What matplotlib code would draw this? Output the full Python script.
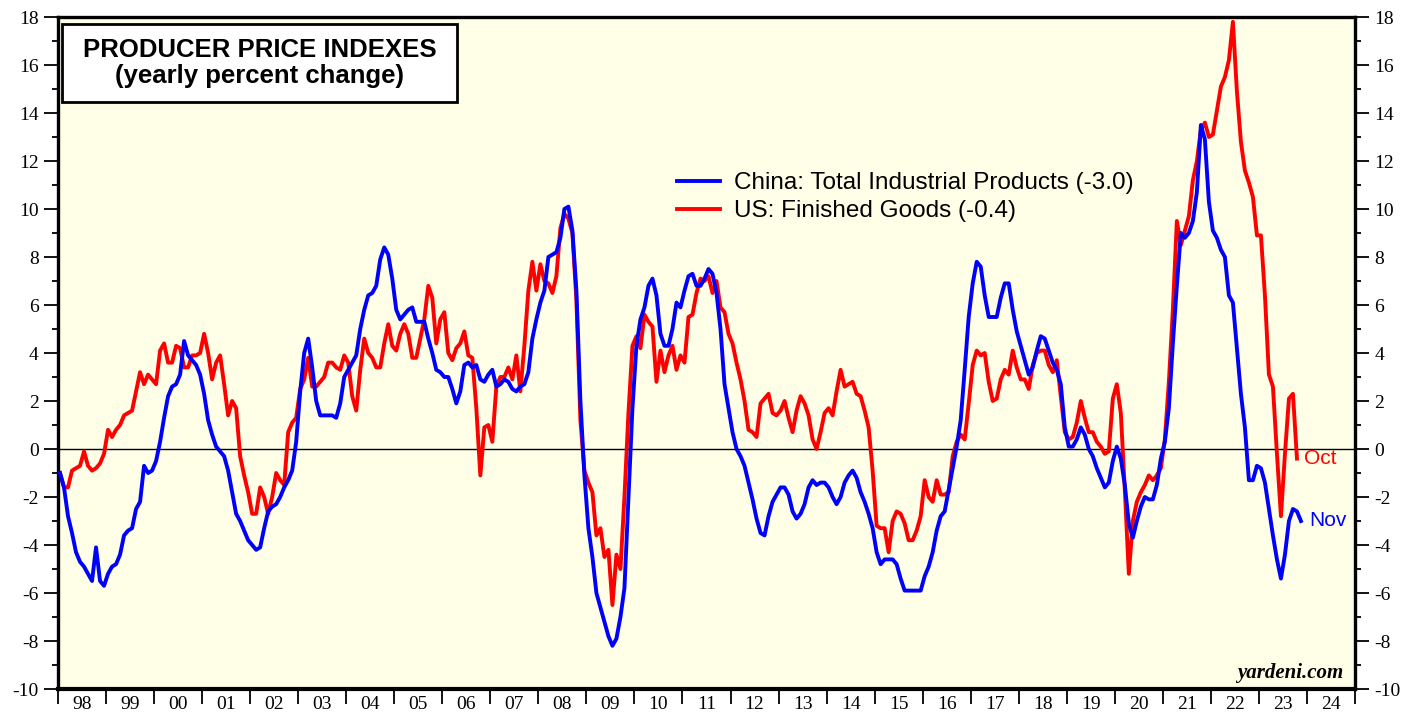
import numpy as np
import matplotlib
matplotlib.use("Agg")
import matplotlib.pyplot as plt
from matplotlib.patches import Rectangle
from matplotlib.ticker import MultipleLocator, FixedLocator, NullFormatter, FixedFormatter

plt.rcParams["axes.unicode_minus"] = False

# monthly yearly % change, Jan 1998 onwards
start_year = 1998

china_ppi = [
    -1.0, -1.6, -2.8, -3.5, -4.3, -4.7, -4.9, -5.2, -5.5, -4.1, -5.5, -5.7,  # 1998
    -5.2, -4.9, -4.8, -4.4, -3.6, -3.4, -3.3, -2.5, -2.2, -0.7, -1.0, -0.9,  # 1999
    -0.5, 0.3, 1.3, 2.2, 2.6, 2.7, 3.1, 4.5, 3.9, 3.7, 3.5, 3.1,  # 2000
    2.3, 1.2, 0.6, 0.1, -0.1, -0.3, -0.9, -1.8, -2.7, -3.0, -3.4, -3.8,  # 2001
    -4.0, -4.2, -4.1, -3.3, -2.6, -2.4, -2.3, -2.0, -1.6, -1.3, -0.9, 0.3,  # 2002
    2.4, 4.0, 4.6, 3.4, 2.0, 1.4, 1.4, 1.4, 1.4, 1.3, 1.9, 3.0,  # 2003
    3.3, 3.6, 3.9, 5.0, 5.8, 6.4, 6.5, 6.8, 7.9, 8.4, 8.1, 7.1,  # 2004
    5.8, 5.4, 5.6, 5.8, 5.9, 5.3, 5.3, 5.3, 4.6, 4.0, 3.3, 3.2,  # 2005
    3.0, 3.0, 2.5, 1.9, 2.4, 3.5, 3.6, 3.4, 3.5, 2.9, 2.8, 3.1,  # 2006
    3.3, 2.6, 2.7, 2.9, 2.8, 2.5, 2.4, 2.6, 2.7, 3.2, 4.6, 5.4,  # 2007
    6.1, 6.6, 8.0, 8.1, 8.2, 8.8, 10.0, 10.1, 9.1, 6.6, 2.0, -1.1,  # 2008
    -3.3, -4.5, -6.0, -6.6, -7.2, -7.8, -8.2, -7.9, -7.0, -5.8, -2.1, 1.7,  # 2009
    4.3, 5.4, 5.9, 6.8, 7.1, 6.4, 4.8, 4.3, 4.3, 5.0, 6.1, 5.9,  # 2010
    6.6, 7.2, 7.3, 6.8, 6.8, 7.1, 7.5, 7.3, 6.5, 5.0, 2.7, 1.7,  # 2011
    0.7, 0.0, -0.3, -0.7, -1.4, -2.1, -2.9, -3.5, -3.6, -2.8, -2.2, -1.9,  # 2012
    -1.6, -1.6, -1.9, -2.6, -2.9, -2.7, -2.3, -1.6, -1.3, -1.5, -1.4, -1.4,  # 2013
    -1.6, -2.0, -2.3, -2.0, -1.4, -1.1, -0.9, -1.2, -1.8, -2.2, -2.7, -3.3,  # 2014
    -4.3, -4.8, -4.6, -4.6, -4.6, -4.8, -5.4, -5.9, -5.9, -5.9, -5.9, -5.9,  # 2015
    -5.3, -4.9, -4.3, -3.4, -2.8, -2.6, -1.7, -0.8, 0.1, 1.2, 3.3, 5.5,  # 2016
    6.9, 7.8, 7.6, 6.4, 5.5, 5.5, 5.5, 6.3, 6.9, 6.9, 5.8, 4.9,  # 2017
    4.3, 3.7, 3.1, 3.4, 4.1, 4.7, 4.6, 4.1, 3.6, 3.3, 2.7, 0.9,  # 2018
    0.1, 0.1, 0.4, 0.9, 0.6, 0.0, -0.3, -0.8, -1.2, -1.6, -1.4, -0.5,  # 2019
    0.1, -0.4, -1.5, -3.1, -3.7, -3.0, -2.4, -2.0, -2.1, -2.1, -1.5, -0.4,  # 2020
    0.3, 1.7, 4.4, 6.8, 9.0, 8.8, 9.0, 9.5, 10.7, 13.5, 12.9, 10.3,  # 2021
    9.1, 8.8, 8.3, 8.0, 6.4, 6.1, 4.2, 2.3, 0.9, -1.3, -1.3, -0.7,  # 2022
    -0.8, -1.4, -2.5, -3.6, -4.6, -5.4, -4.4, -3.0, -2.5, -2.6, -3.0,  # 2023 (to Nov)
]

us_ppi = [
    -1.0, -1.6, -1.6, -0.9, -0.8, -0.7, -0.1, -0.7, -0.9, -0.8, -0.6, -0.2,  # 1998
    0.8, 0.5, 0.8, 1.0, 1.4, 1.5, 1.6, 2.4, 3.2, 2.7, 3.1, 2.9,  # 1999
    2.7, 4.1, 4.4, 3.6, 3.6, 4.3, 4.2, 3.4, 3.4, 3.9, 3.9, 4.0,  # 2000
    4.8, 4.0, 2.9, 3.6, 3.9, 2.7, 1.4, 2.0, 1.7, -0.3, -1.1, -1.8,  # 2001
    -2.7, -2.7, -1.6, -2.0, -2.7, -2.0, -1.0, -1.3, -1.5, 0.7, 1.1, 1.3,  # 2002
    2.5, 2.9, 3.8, 2.6, 2.6, 2.8, 3.0, 3.6, 3.6, 3.4, 3.3, 3.9,  # 2003
    3.6, 2.2, 1.6, 3.3, 4.6, 4.0, 3.8, 3.4, 3.4, 4.4, 5.2, 4.3,  # 2004
    4.1, 4.8, 5.2, 4.8, 3.8, 3.8, 4.6, 5.4, 6.8, 6.3, 4.4, 5.4,  # 2005
    5.7, 4.0, 3.7, 4.2, 4.4, 4.9, 3.9, 3.8, 1.7, -1.1, 0.9, 1.0,  # 2006
    0.3, 2.6, 3.0, 3.0, 3.4, 2.9, 3.9, 2.4, 4.3, 6.6, 7.8, 6.6,  # 2007
    7.7, 7.0, 6.9, 6.5, 7.2, 9.2, 9.8, 9.6, 9.0, 6.2, 1.2, -0.9,  # 2008
    -1.4, -1.8, -3.6, -3.3, -4.5, -4.2, -6.5, -4.4, -5.0, -2.0, 1.5, 4.3,  # 2009
    4.7, 4.2, 5.6, 5.3, 5.1, 2.8, 4.1, 3.2, 3.9, 4.3, 3.3, 3.9,  # 2010
    3.6, 5.5, 5.6, 6.5, 7.1, 7.0, 7.2, 6.5, 7.0, 5.9, 5.7, 4.8,  # 2011
    4.4, 3.6, 2.9, 2.0, 0.8, 0.7, 0.5, 1.9, 2.1, 2.3, 1.5, 1.4,  # 2012
    1.6, 2.0, 1.3, 0.7, 1.6, 2.2, 1.9, 1.4, 0.4, 0.0, 0.7, 1.5,  # 2013
    1.7, 1.4, 2.4, 3.3, 2.6, 2.7, 2.8, 2.3, 2.2, 1.6, 0.9, -0.9,  # 2014
    -3.2, -3.3, -3.3, -4.3, -3.0, -2.6, -2.7, -3.1, -3.8, -3.8, -3.4, -2.8,  # 2015
    -1.3, -2.0, -2.2, -1.3, -1.9, -1.9, -1.8, -0.3, 0.3, 0.6, 0.4, 1.9,  # 2016
    3.5, 4.1, 3.9, 4.0, 2.8, 2.0, 2.1, 2.9, 3.3, 3.1, 4.1, 3.4,  # 2017
    2.9, 2.9, 2.5, 3.5, 4.0, 4.1, 4.1, 3.5, 3.2, 3.7, 2.2, 0.7,  # 2018
    0.4, 0.5, 1.1, 2.0, 1.3, 0.7, 0.7, 0.3, 0.1, -0.2, -0.1, 2.1,  # 2019
    2.7, 1.5, -1.7, -5.2, -3.0, -2.2, -1.8, -1.5, -1.1, -1.3, -1.1, -0.8,  # 2020
    0.4, 2.8, 5.8, 9.5, 8.5, 9.1, 9.7, 11.2, 12.0, 13.3, 13.6, 13.0,  # 2021
    13.1, 14.1, 15.1, 15.5, 16.2, 17.8, 14.9, 12.8, 11.6, 11.1, 10.5, 8.9,  # 2022
    8.9, 6.4, 3.1, 2.6, -0.2, -2.8, -0.2, 2.1, 2.3, -0.4,  # 2023 (to Oct)
]

year_labels = ["98", "99", "00", "01", "02", "03", "04", "05", "06", "07", "08",
               "09", "10", "11", "12", "13", "14", "15", "16", "17", "18", "19",
               "20", "21", "22", "23", "24"]

china_label = "China: Total Industrial Products (-3.0)"
us_label = "US: Finished Goods (-0.4)"

# Months sit at mid-month in decimal years
x_china = start_year + (np.arange(len(china_ppi)) + 0.5) / 12
x_us = start_year + (np.arange(len(us_ppi)) + 0.5) / 12

sans = "Liberation Sans"
serif = "Liberation Serif"

fig = plt.figure(figsize=(14.19, 7.17), dpi=100)
ax = fig.add_axes([58 / 1419, 1 - 689 / 717, 1297 / 1419, 672 / 717])
ax.set_facecolor("#fffee6")

ax.axhline(0, color="black", lw=1.0, zorder=1)
ax.plot(x_china, china_ppi, color="#0000ff", lw=2.8, label=china_label, zorder=3,
        solid_joinstyle="round")
ax.plot(x_us, us_ppi, color="#ff0000", lw=2.8, label=us_label, zorder=2,
        solid_joinstyle="round")

ax.set_xlim(start_year, start_year + len(year_labels))
ax.set_ylim(-10, 18)

# y axis, ticks on both sides
ax.yaxis.set_major_locator(MultipleLocator(2))
ax.yaxis.set_minor_locator(MultipleLocator(1))
ax.tick_params(axis="y", which="both", direction="out", left=True, right=True,
               labelleft=True, labelright=True, width=1.3)
ax.tick_params(axis="y", which="major", length=10, pad=4, labelsize=14)
ax.tick_params(axis="y", which="minor", length=4)
for lab in ax.get_yticklabels():
    lab.set_fontfamily(serif)

# x axis: ticks at year boundaries, labels centred in each year
years = np.arange(start_year, start_year + len(year_labels) + 1)
ax.xaxis.set_major_locator(FixedLocator(years))
ax.xaxis.set_major_formatter(NullFormatter())
ax.xaxis.set_minor_locator(FixedLocator(years[:-1] + 0.5))
ax.xaxis.set_minor_formatter(FixedFormatter(year_labels))
ax.tick_params(axis="x", which="major", direction="out", length=11, width=1.3)
ax.tick_params(axis="x", which="minor", length=0, pad=5, labelsize=14)
for lab in ax.get_xticklabels(minor=True):
    lab.set_fontfamily(serif)

for side in ["left", "right", "top"]:
    ax.spines[side].set_linewidth(2.4)
ax.spines["bottom"].set_linewidth(3.0)

# title box
ax.add_patch(Rectangle((0.003, 0.8735), 0.3045, 0.116, transform=ax.transAxes,
                       facecolor="white", edgecolor="black", lw=2.0, zorder=5))
ax.text(0.1557, 0.931, "PRODUCER PRICE INDEXES\n(yearly percent change)",
        transform=ax.transAxes, ha="center", va="center", fontsize=18.5,
        fontweight="bold", family=sans, linespacing=1.1, zorder=6)

leg = ax.legend(loc="upper left", bbox_to_anchor=(0.477, 0.769), frameon=False,
                prop={"family": sans, "size": 17.5}, handlelength=1.8,
                handletextpad=0.55, labelspacing=0.25, borderpad=0,
                borderaxespad=0)
for line in leg.get_lines():
    line.set_linewidth(2.8)

# end-of-series month labels
ax.annotate("Oct", xy=(x_us[-1], us_ppi[-1]), xytext=(5, 0),
            textcoords="offset points", color="#ff0000", fontsize=15,
            family=sans, va="center", ha="left")
ax.annotate("Nov", xy=(x_china[-1], china_ppi[-1]), xytext=(6, 0),
            textcoords="offset points", color="#0000ff", fontsize=15,
            family=sans, va="center", ha="left")

ax.text(0.9907, 0.024, "yardeni.com", transform=ax.transAxes, ha="right",
        va="center", fontsize=15, family=serif, fontweight="bold",
        fontstyle="italic")

fig.savefig("out.png", dpi=100, facecolor="white")
